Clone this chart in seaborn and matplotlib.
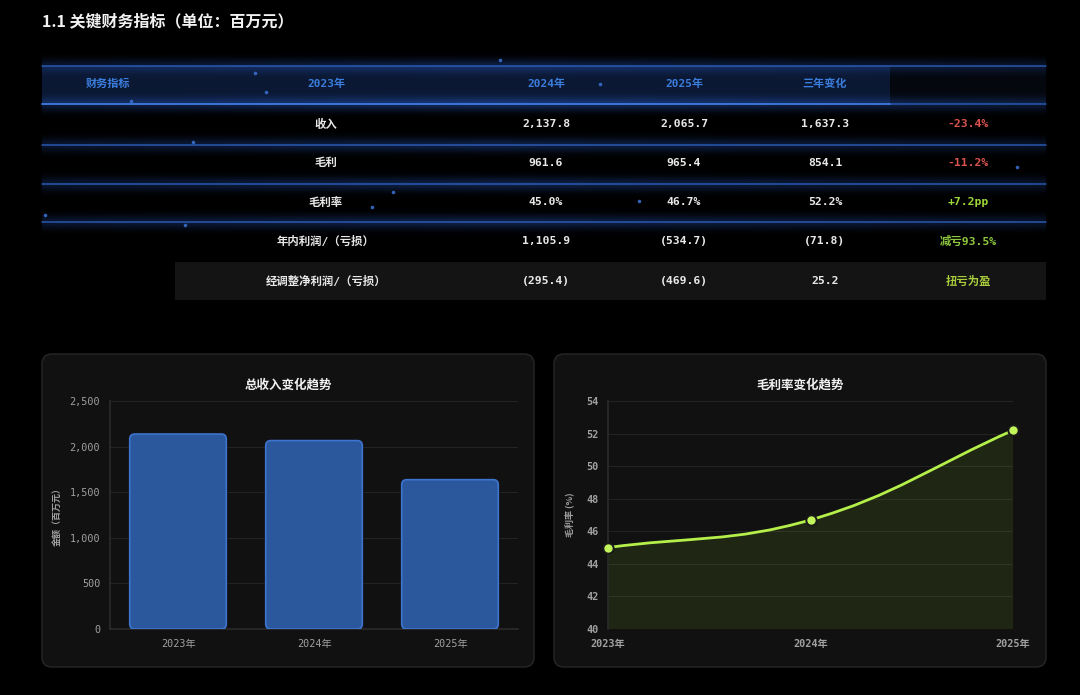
import numpy as np
import pandas as pd
import matplotlib
matplotlib.use("Agg")
import matplotlib.pyplot as plt
import seaborn as sns
from matplotlib.patches import FancyBboxPatch, Rectangle, PathPatch
from matplotlib.path import Path

# ---------------- data ----------------
years = ["2023年", "2024年", "2025年"]
revenue = [2137.8, 2065.7, 1637.3]
gross_margin = [45.0, 46.7, 52.2]

header = ["财务指标", "2023年", "2024年", "2025年", "三年变化"]
row_labels = ["收入", "毛利", "毛利率", "年内利润/（亏损）", "经调整净利润/（亏损）"]
col_2023 = ["2,137.8", "961.6", "45.0%", "1,105.9", "(295.4)"]
col_2024 = ["2,065.7", "965.4", "46.7%", "(534.7)", "(469.6)"]
col_2025 = ["1,637.3", "854.1", "52.2%", "(71.8)", "25.2"]
change = ["-23.4%", "-11.2%", "+7.2pp", "减亏93.5%", "扭亏为盈"]
change_colors = ["#d9534f", "#d9534f", "#9fd83a", "#8cc63f", "#a8cc3c"]

bar_ticks = [0, 500, 1000, 1500, 2000, 2500]
line_ticks = [40, 42, 44, 46, 48, 50, 52, 54]

# ---------------- style ----------------
sns.set_theme(style="dark")
MONO = ["DejaVu Sans Mono", "Noto Sans CJK SC"]
CJK = ["Noto Sans CJK SC", "DejaVu Sans"]
plt.rcParams["font.family"] = MONO
plt.rcParams["axes.unicode_minus"] = False

W, H = 1080, 695
fig = plt.figure(figsize=(W / 100, H / 100), dpi=100, facecolor="black")

bg = fig.add_axes([0, 0, 1, 1], zorder=0)
bg.set_facecolor("black")
bg.axis("off")

# Title
bg.text(42, 21, "1.1 关键财务指标（单位：百万元）", family=CJK, fontsize=11.5,
        fontweight="bold", color="#f2f2f2", va="center", ha="left")

# ---------------- table ----------------
TL, TR = 42, 1046
bg.add_patch(Rectangle((TL, 66), 890 - TL, 38, facecolor="#0b1833", edgecolor="none", zorder=1))
bg.add_patch(Rectangle((890, 66), TR - 890, 38, facecolor="#04070d", edgecolor="none", zorder=1))


def glow(yc, half, peak, color=(0.16, 0.36, 0.78), sigma=5.0, x0=TL, x1=TR, z=2):
    ny, nx = 60, 400
    yy = np.linspace(-half, half, ny)[:, None]
    xx = np.linspace(0, 1, nx)[None, :]
    vert = np.exp(-0.5 * (yy / sigma) ** 2)
    horiz = 0.55 + 0.45 * np.clip(1 - np.abs(xx - 0.45) / 0.6, 0, 1)
    a = peak * vert * horiz
    img = np.zeros((ny, nx, 4))
    img[..., 0], img[..., 1], img[..., 2] = color
    img[..., 3] = a
    bg.imshow(img, extent=[x0, x1, yc + half, yc - half], origin="upper",
              aspect="auto", zorder=z, interpolation="bilinear")


for yl, pk in [(66, 0.35), (104, 0.45), (145, 0.35), (184, 0.35), (222, 0.35)]:
    glow(yl, 14, pk)
    bg.plot([TL, TR], [yl, yl], color="#2f63c4", lw=1.1, alpha=0.85, zorder=3)
bg.plot([TL, 890], [104, 104], color="#3f7be0", lw=1.3, alpha=0.9, zorder=3)

bg.add_patch(Rectangle((175, 262), TR - 175, 38, facecolor="#141414", edgecolor="none", zorder=1))

for px, py in [(255, 73), (131, 101), (266, 92), (372, 207), (185, 225), (45, 215),
               (1017, 167), (639, 201), (500, 60), (393, 192), (193, 142), (600, 84)]:
    bg.plot(px, py, "o", ms=1.6, color="#3a6fd0", alpha=0.8, zorder=4)

header_x = [108, 326, 546, 684, 825]
for hx, ht in zip(header_x, header):
    bg.text(hx, 84, ht, color="#3b7ddd", fontsize=8, fontweight="bold",
            family=MONO, ha="center", va="center", zorder=5)

row_y = [124, 163, 202, 241, 281]
cols = [row_labels, col_2023, col_2024, col_2025]
col_x = [326, 546, 684, 825]
for ry_i, ry in enumerate(row_y):
    for cx, col in zip(col_x, cols):
        bg.text(cx, ry, col[ry_i], color="#e8e8e8", fontsize=8.2, family=MONO,
                fontweight="bold", ha="center", va="center", zorder=5)
    bg.text(968, ry, change[ry_i], color=change_colors[ry_i], fontsize=8.2,
            family=MONO, fontweight="bold", ha="center", va="center", zorder=5)

# ---------------- cards ----------------
for cx0 in (42, 554):
    bg.add_patch(FancyBboxPatch((cx0, 354), 492, 313,
                                boxstyle="round,pad=0,rounding_size=10",
                                facecolor="#111111", edgecolor="#272727", lw=1, zorder=1))
bg.text(288, 385, "总收入变化趋势", family=CJK, fontsize=9, fontweight="bold",
        color="#f0f0f0", ha="center", va="center", zorder=5)
bg.text(800, 385, "毛利率变化趋势", family=CJK, fontsize=9, fontweight="bold",
        color="#f0f0f0", ha="center", va="center", zorder=5)

bg.set_xlim(0, W)
bg.set_ylim(H, 0)


def fig_rect(x0, y0, x1, y1):
    return [x0 / W, (H - y1) / H, (x1 - x0) / W, (y1 - y0) / H]


TICK_C = "#a0a0a0"
GRID_C = "#232323"

# ---------------- bar chart ----------------
ax1 = fig.add_axes(fig_rect(110, 401, 518, 629), zorder=2)
ax1.set_facecolor("none")
df_bar = pd.DataFrame({"year": years, "revenue": revenue})
sns.barplot(data=df_bar, x="year", y="revenue", ax=ax1, color="#2b579c",
            width=0.71, saturation=1)
ax1.set_ylim(0, 2500)
ax1.set_xlim(-0.5, 2.5)
px_per_x = 408 / 3.0
px_per_y = 228 / 2500.0
r = 5.0
for p in list(ax1.patches):
    x, y, w, h = p.get_x(), p.get_y(), p.get_width(), p.get_height()
    p.set_visible(False)
    fb = FancyBboxPatch((x, y), w, h,
                        boxstyle=f"round,pad=0,rounding_size={r / px_per_x}",
                        mutation_aspect=(px_per_x / px_per_y),
                        facecolor="#2b579c", edgecolor="#3d74d0", lw=1.2, zorder=3)
    ax1.add_patch(fb)
ax1.set_yticks(bar_ticks)
ax1.set_yticklabels([f"{v:,}" for v in bar_ticks])
ax1.grid(axis="y", color=GRID_C, lw=0.8)
ax1.grid(axis="x", visible=False)
ax1.set_axisbelow(True)
ax1.tick_params(colors=TICK_C, labelsize=7.3, length=0, pad=7)
for lab in ax1.get_xticklabels() + ax1.get_yticklabels():
    lab.set_family(MONO)
    lab.set_color(TICK_C)
ax1.set_xlabel("")
ax1.set_ylabel("金额（百万元）", family=CJK, fontsize=6.5, fontweight="bold",
               color=TICK_C, labelpad=6)
for s in ["top", "right"]:
    ax1.spines[s].set_visible(False)
ax1.spines["left"].set_color("#2a2a2a")
ax1.spines["bottom"].set_color("#2a2a2a")

# ---------------- line chart ----------------
ax2 = fig.add_axes(fig_rect(608, 401, 1013, 629), zorder=2)
ax2.set_facecolor("none")
xs = np.arange(len(years), dtype=float)
ax2.set_xlim(0, 2)
ax2.set_ylim(40, 54)
sx = 405 / 2.0
sy = 228 / 14.0
P = np.column_stack([xs * sx, np.array(gross_margin) * sy])
n = len(P)
cprev = P.copy()
cnext = P.copy()
t = 0.4
for i in range(n):
    a = P[max(i - 1, 0)]
    b = P[i]
    c = P[min(i + 1, n - 1)]
    d01 = np.hypot(*(b - a))
    d12 = np.hypot(*(c - b))
    tot = d01 + d12
    s01 = d01 / tot if tot else 0
    s12 = d12 / tot if tot else 0
    cprev[i] = b - t * s01 * (c - a)
    cnext[i] = b + t * s12 * (c - a)
verts = [P[0]]
codes = [Path.MOVETO]
for i in range(n - 1):
    verts += [cnext[i], cprev[i + 1], P[i + 1]]
    codes += [Path.CURVE4] * 3
verts = np.array(verts) / np.array([sx, sy])
curve = Path(verts, codes)
fill_verts = np.vstack([verts, [[xs[-1], 40], [xs[0], 40], verts[0]]])
fill_codes = codes + [Path.LINETO, Path.LINETO, Path.CLOSEPOLY]
ax2.add_patch(PathPatch(Path(fill_verts, fill_codes), facecolor="#a3e635",
                        alpha=0.10, edgecolor="none", zorder=2))
ax2.add_patch(PathPatch(curve, facecolor="none", edgecolor="#b5ef4a", lw=2, zorder=3))
df_line = pd.DataFrame({"x": xs, "gm": gross_margin})
sns.scatterplot(data=df_line, x="x", y="gm", ax=ax2, s=55, color="#c2f55a",
                edgecolor="#1a1a1a", linewidth=1.4, zorder=4, clip_on=False)
ax2.set_xticks(xs)
ax2.set_xticklabels(years)
ax2.set_yticks(line_ticks)
ax2.grid(axis="y", color=GRID_C, lw=0.8)
ax2.grid(axis="x", visible=False)
ax2.tick_params(colors=TICK_C, labelsize=7.3, length=0, pad=7)
for lab in ax2.get_xticklabels() + ax2.get_yticklabels():
    lab.set_family(MONO)
    lab.set_color(TICK_C)
    lab.set_fontweight("bold")
ax2.set_xlabel("")
ax2.set_ylabel("毛利率 (%)", family=CJK, fontsize=6.5, fontweight="bold",
               color=TICK_C, labelpad=8)
for s in ["top", "right", "bottom"]:
    ax2.spines[s].set_visible(False)
ax2.spines["left"].set_color("#2a2a2a")
ax2.set_xlim(0, 2)
ax2.set_ylim(40, 54)

fig.savefig("out.png", dpi=100, facecolor="black")
